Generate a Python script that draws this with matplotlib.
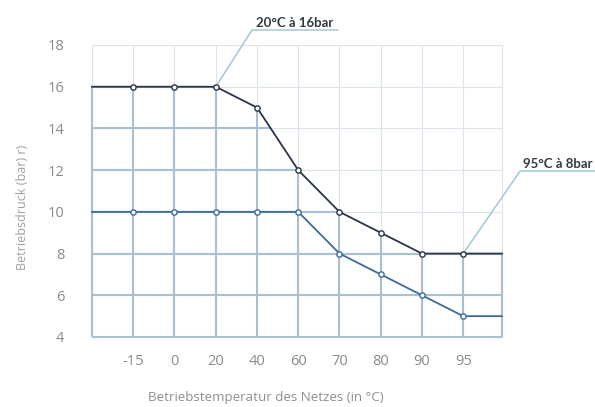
import matplotlib
matplotlib.use("Agg")
import matplotlib.pyplot as plt
from matplotlib.patches import Polygon

# ─────────── Daten ───────────
temps = ["-15", "0", "20", "40", "60", "70", "80", "90", "95"]
p_oben = [16, 16, 16, 15, 12, 10, 9, 8, 8]      # obere Kurve (dunkel)
p_unten = [10, 10, 10, 10, 10, 8, 7, 6, 5]      # untere Kurve (blau)
y_ticks = [4, 6, 8, 10, 12, 14, 16, 18]

# ─────────── Stil ───────────
C_OBEN = "#2b3548"
C_UNTEN = "#3c6a9b"
C_GRID_HELL = "#dbe4ea"
C_GRID_DUNKEL = "#a8c0d1"
C_LEIT = "#a3c7d2"
C_TICK = "#8a8a8a"

X0, X1 = 0, 9.94
Y0, Y1 = 4, 18

fig = plt.figure(figsize=(5.95, 4.07), dpi=100)
ax = fig.add_axes([92/595, 70/407, 410/595, 292/407])
ax.set_xlim(X0, X1)
ax.set_ylim(Y0, Y1)
for s in ax.spines.values():
    s.set_visible(False)

xs = list(range(1, len(temps) + 1))
ext_x = [X0] + xs + [X1]
ext_oben = [p_oben[0]] + p_oben + [p_oben[-1]]
ext_unten = [p_unten[0]] + p_unten + [p_unten[-1]]

# Fläche unter der oberen Kurve als Clip-Bereich
rand_x = [X0 - 0.2] + xs + [X1 + 0.2]
verts = list(zip(rand_x, ext_oben)) + [(X1 + 0.2, Y0 - 0.3), (X0 - 0.2, Y0 - 0.3)]
poly = Polygon(verts, closed=True, facecolor="none", edgecolor="none",
               transform=ax.transData)
ax.add_patch(poly)
poly.set_clip_on(False)

vlines = [X0] + xs + [X1]
hlines = y_ticks

def gitter(farbe, lw, z, clip=None):
    arts = []
    for x in vlines:
        arts += ax.plot([x, x], [Y0, Y1], color=farbe, lw=lw, zorder=z,
                        solid_capstyle="butt", clip_on=clip is not None)
    for y in hlines:
        arts += ax.plot([X0, X1], [y, y], color=farbe, lw=lw, zorder=z,
                        solid_capstyle="butt", clip_on=clip is not None)
    if clip is not None:
        for a in arts:
            a.set_clip_path(clip)
            a.set_clip_box(None)

gitter(C_GRID_HELL, 0.8, 1)
gitter(C_GRID_DUNKEL, 1.5, 2, clip=poly)

# Kurven
ax.plot(ext_x, ext_oben, color=C_OBEN, lw=1.3, zorder=3, clip_on=False)
ax.plot(ext_x, ext_unten, color=C_UNTEN, lw=1.3, zorder=3, clip_on=False)
ax.plot(xs, p_oben, "o", ms=3.8, mfc="white", mec=C_OBEN, mew=1.0, zorder=4)
ax.plot(xs, p_unten, "o", ms=3.8, mfc="white", mec=C_UNTEN, mew=1.0, zorder=4)

# Achsen
ax.set_xticks(xs)
ax.set_xticklabels(temps)
ax.set_yticks(y_ticks)
ax.tick_params(length=0, colors=C_TICK, labelsize=10.5)
ax.tick_params(axis="x", pad=12)
ax.tick_params(axis="y", pad=20)
for lab in ax.get_xticklabels() + ax.get_yticklabels():
    lab.set_family("Open Sans")

fig.text(266/595, 1 - 398/407, "Betriebstemperatur des Netzes (in °C)",
         ha="center", va="center", color="#8f8f8f", fontsize=9.6,
         family="Open Sans")
fig.text(23/595, 1 - 207/407, "Betriebsdruck (bar) r)", rotation=90,
         ha="center", va="center", color="#a0a0a0", fontsize=9,
         family="Open Sans")

# Beschriftungen mit Leitlinien
ax.plot([3, 3.88, 5.96], [16, 18.72, 18.72], color=C_LEIT, lw=1.1,
        clip_on=False, zorder=1)
ax.text(4.92, 18.78, "20°C à 16bar", ha="center", va="bottom",
        fontsize=9.5, fontweight="bold", color="#333a44", family="Lato",
        clip_on=False)
ax.plot([9, 10.38, 12.3], [8, 11.96, 11.96], color=C_LEIT, lw=1.1,
        clip_on=False, zorder=1)
ax.text(10.45, 12.02, "95°C à 8bar", ha="left", va="bottom",
        fontsize=9.5, fontweight="bold", color="#333a44", family="Lato",
        clip_on=False)

fig.savefig("out.png", dpi=100)
